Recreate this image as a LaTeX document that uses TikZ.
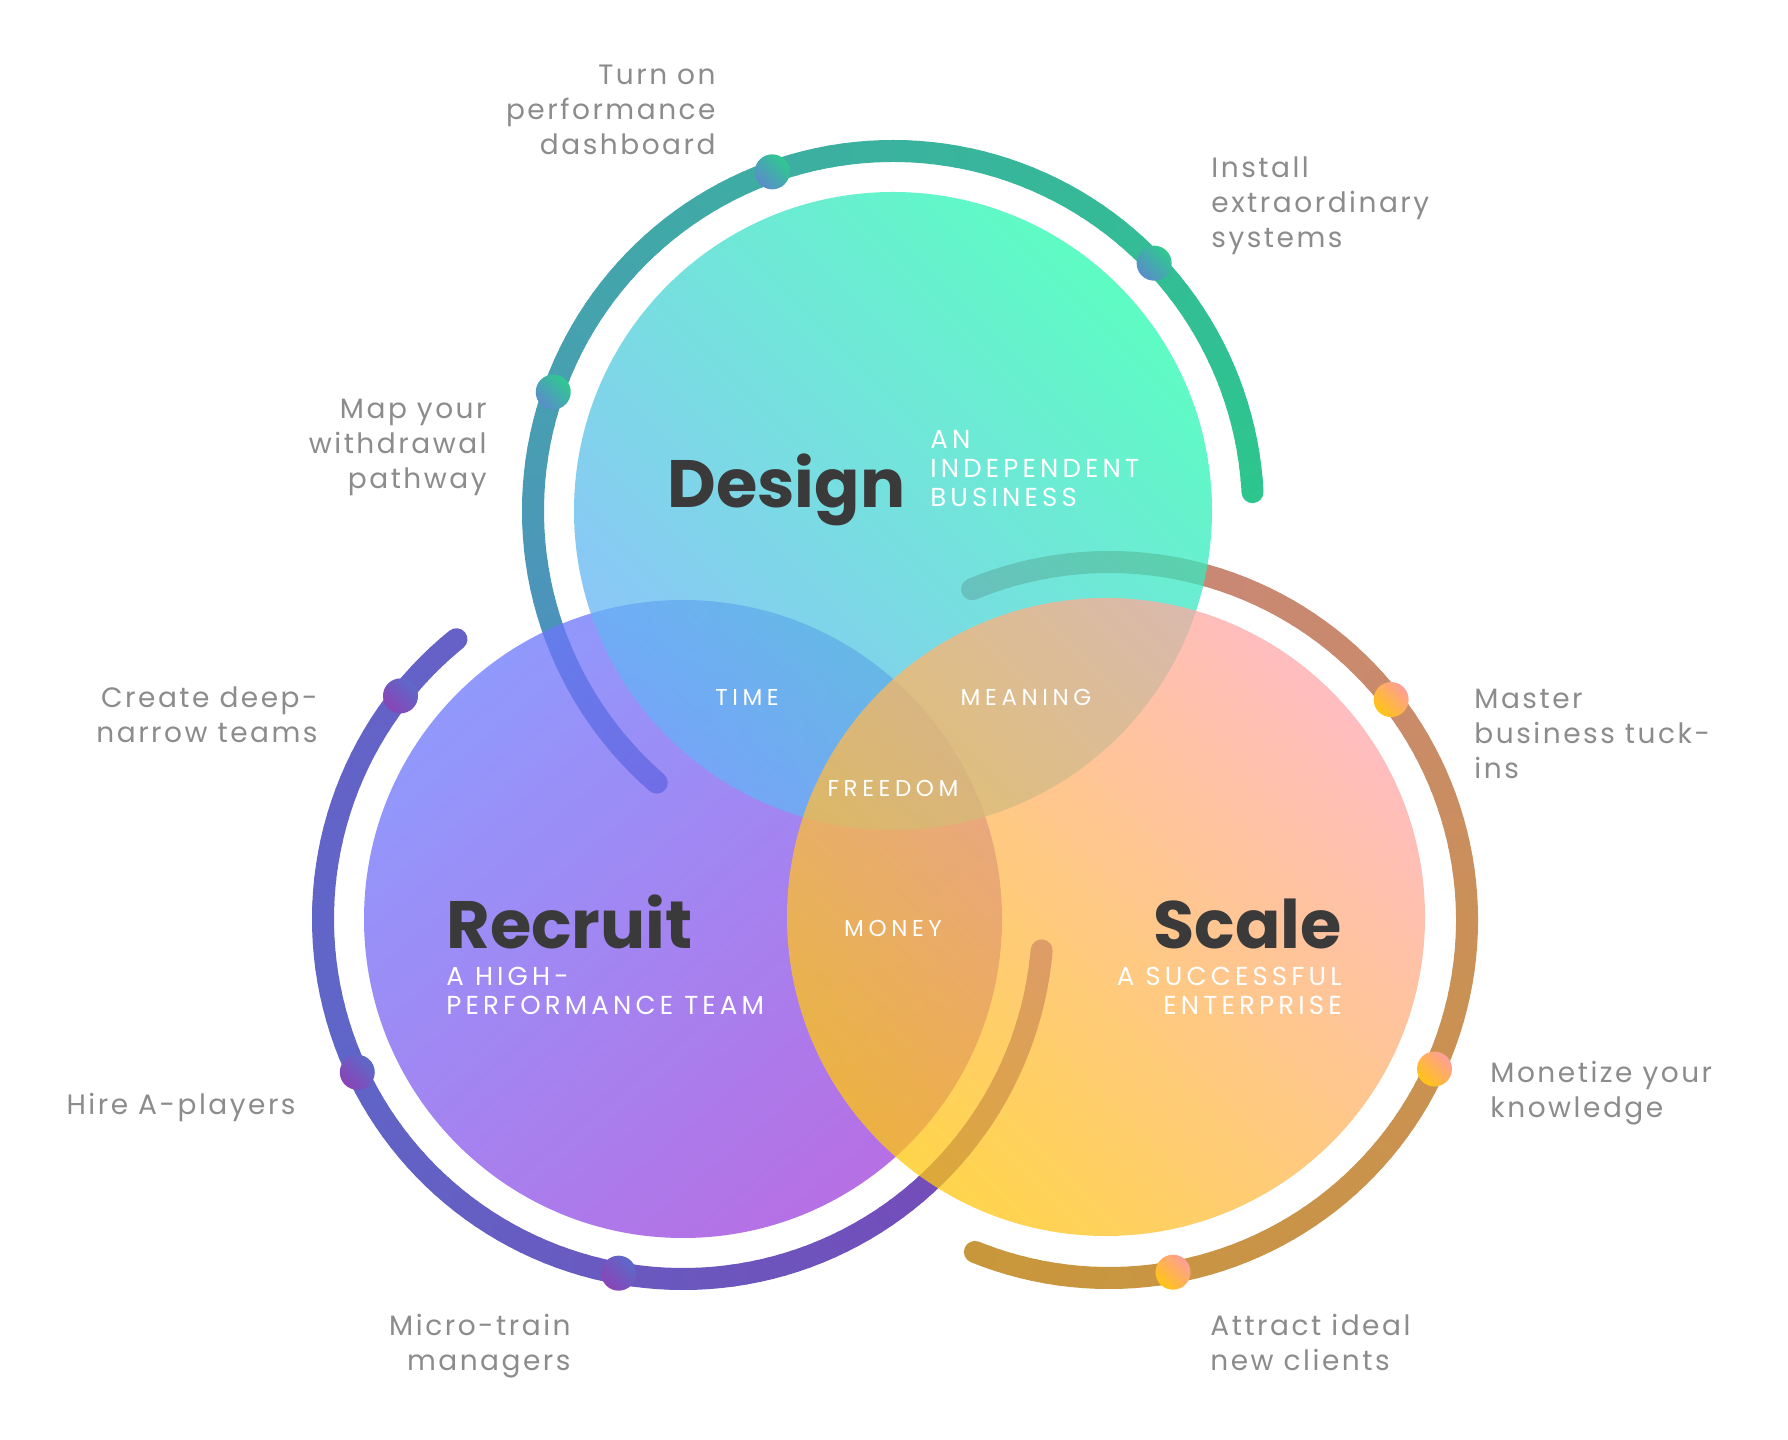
\documentclass[tikz,border=0pt]{standalone}
\usepackage{fontspec}
\setmainfont{Poppins}
\newfontfamily\tagfont[LetterSpace=9]{Poppins}
\newfontfamily\capsfont[LetterSpace=16]{Poppins}
\newfontfamily\spacedfont[LetterSpace=20]{Poppins}
\usepackage{tikz}
\usetikzlibrary{positioning}

\definecolor{labelgray}{HTML}{8C8C8C}
\definecolor{titlegray}{HTML}{3A3A3A}
% circle fills
\definecolor{desTop}{HTML}{28FCB0}
\definecolor{desBot}{HTML}{68B0F8}
\definecolor{recTop}{HTML}{6C77FC}
\definecolor{recBot}{HTML}{9E40DC}
\definecolor{scaTop}{HTML}{FFA7AB}
\definecolor{scaBot}{HTML}{FFC70E}
% arc colours
\definecolor{arcDa}{HTML}{2DC68E}
\definecolor{arcDb}{HTML}{3CB0A0}
\definecolor{arcDc}{HTML}{4A9AB6}
\definecolor{arcDd}{HTML}{5088C4}
\definecolor{arcRa}{HTML}{6661C7}
\definecolor{arcRb}{HTML}{5F66C8}
\definecolor{arcRc}{HTML}{6C55BD}
\definecolor{arcRd}{HTML}{7C44B5}
\definecolor{arcSa}{HTML}{C8867E}
\definecolor{arcSb}{HTML}{C98A6C}
\definecolor{arcSc}{HTML}{CA9058}
\definecolor{arcSd}{HTML}{C9973B}
% dot colours
\definecolor{dotDt}{HTML}{2ECA8E}
\definecolor{dotDb}{HTML}{5A8CCB}
\definecolor{dotRt}{HTML}{5C6ACA}
\definecolor{dotRb}{HTML}{8A44B6}
\definecolor{dotSt}{HTML}{FF9E98}
\definecolor{dotSb}{HTML}{FFC414}

% arc painted in short pieces so that its colour runs from #5 to #6
\newcommand{\gradarc}[6]{%
  \pgfmathtruncatemacro{\nseg}{max(2,abs(#4-#3)/2)}
  \foreach \k in {1,...,\nseg}{
    \pgfmathsetmacro{\angA}{#3+(#4-#3)*(\k-1)/\nseg}
    \pgfmathsetmacro{\angB}{#3+(#4-#3)*\k/\nseg}
    \pgfmathtruncatemacro{\mixp}{100*(\k-0.5)/\nseg}
    \draw[arcline, draw=#6!\mixp!#5] ([shift={(\angA:#2)}]#1) arc[start angle=\angA, end angle=\angB, radius=#2];
  }
}

\begin{document}
\begin{tikzpicture}[x=0.5pt, y=0.5pt,
    arcline/.style={line width=11pt, line cap=round},
    dot/.style={circle, shade, minimum size=17.5pt, inner sep=0pt},
    dotD/.style={dot, top color=dotDt, bottom color=dotDb, shading angle=-45},
    dotR/.style={dot, top color=dotRt, bottom color=dotRb, shading angle=-45},
    dotS/.style={dot, top color=dotSt, bottom color=dotSb, shading angle=-45},
    disc/.style={fill opacity=0.75},
    tag/.style={font=\tagfont\fontsize{14}{17.5}\selectfont, text=labelgray, inner sep=0pt},
    title/.style={font=\bfseries\fontsize{33.5}{40}\selectfont, text=titlegray, inner sep=0pt},
    sub/.style={font=\capsfont\fontsize{13}{14.5}\selectfont, text=white, inner sep=0pt},
    overlap/.style={font=\spacedfont\fontsize{11.5}{14}\selectfont, text=white, inner sep=0pt, anchor=base}]

    \useasboundingbox[fill=white] (0,0) rectangle (1788,1440);

    % centres
    \coordinate (dc) at (893,929);
    \coordinate (rc) at (683,521);
    \coordinate (sc) at (1106,523);
    \coordinate (sarc) at (1109,520);

    % outer arcs
    \gradarc{dc}{360}{3}{100}{arcDa}{arcDb}
    \gradarc{dc}{360}{100}{180}{arcDb}{arcDc}
    \gradarc{dc}{360}{180}{229}{arcDc}{arcDd}
    \gradarc{rc}{360}{129}{200}{arcRa}{arcRb}
    \gradarc{rc}{360}{200}{280}{arcRb}{arcRc}
    \gradarc{rc}{360}{280}{355}{arcRc}{arcRd}
    \gradarc{sarc}{358}{112.5}{40}{arcSa}{arcSb}
    \gradarc{sarc}{358}{40}{0}{arcSb}{arcSc}
    \gradarc{sarc}{358}{0}{-112}{arcSc}{arcSd}

    % step dots
    \node[dotD] (dotDa) at ([shift={(109.6:360)}]dc) {};
    \node[dotD] (dotDb) at ([shift={(43.5:360)}]dc) {};
    \node[dotD] (dotDc) at ([shift={(160.7:360)}]dc) {};
    \node[dotR] (dotRa) at ([shift={(141.7:360)}]rc) {};
    \node[dotR] (dotRb) at ([shift={(205.2:360)}]rc) {};
    \node[dotR] (dotRc) at ([shift={(259.7:360)}]rc) {};
    \node[dotS] (dotSa) at ([shift={(38:358)}]sarc) {};
    \node[dotS] (dotSb) at ([shift={(-24.6:358)}]sarc) {};
    \node[dotS] (dotSc) at ([shift={(-79.7:358)}]sarc) {};

    % the three circles
    \shade[disc, top color=recTop, bottom color=recBot, shading angle=40] (rc) circle[radius=319];
    \shade[disc, top color=desTop, bottom color=desBot, shading angle=-45] (dc) circle[radius=319];
    \shade[disc, top color=scaTop, bottom color=scaBot, shading angle=-45] (sc) circle[radius=319];

    % circle titles
    \node[title, anchor=base west] (design) at (667,932) {Design};
    \node[sub, anchor=base west, align=left] (designsub) at (930,933) {AN\\INDEPENDENT\\BUSINESS};
    \node[title, anchor=base west] (recruit) at (446,491) {Recruit};
    \node[sub, anchor=base west, align=left] (recruitsub) at (446,425) {A HIGH-\\PERFORMANCE TEAM};
    \node[title, anchor=base east] (scale) at (1342,491) {Scale};
    \node[sub, anchor=base east, align=right] (scalesub) at (1342,425) {A SUCCESSFUL\\ENTERPRISE};

    % overlaps
    \node[overlap] (time) at (747,734) {TIME};
    \node[overlap] (meaning) at (1026,734) {MEANING};
    \node[overlap] (freedom) at (893,643) {FREEDOM};
    \node[overlap] (money) at (893,503) {MONEY};

    % step labels
    \node[tag, anchor=base east, align=right] (turnon) at (716,1285) {Turn on\\performance\\dashboard};
    \node[tag, anchor=base west, align=left] (install) at (1211,1192) {Install\\extraordinary\\systems};
    \node[tag, anchor=base east, align=right] (mapyour) at (487,951) {Map your\\withdrawal\\pathway};
    \node[tag, anchor=base east, align=right] (deepnarrow) at (318,697) {Create deep-\\narrow teams};
    \node[tag, anchor=base east] (hire) at (296,325) {Hire A-players};
    \node[tag, anchor=base east, align=right] (microtrain) at (571,69) {Micro-train\\managers};
    \node[tag, anchor=base west, align=left] (tuckins) at (1474,661) {Master\\business tuck-\\ins};
    \node[tag, anchor=base west, align=left] (monetize) at (1490,322) {Monetize your\\knowledge};
    \node[tag, anchor=base west, align=left] (attract) at (1210,69) {Attract ideal\\new clients};

\end{tikzpicture}
\end{document}
